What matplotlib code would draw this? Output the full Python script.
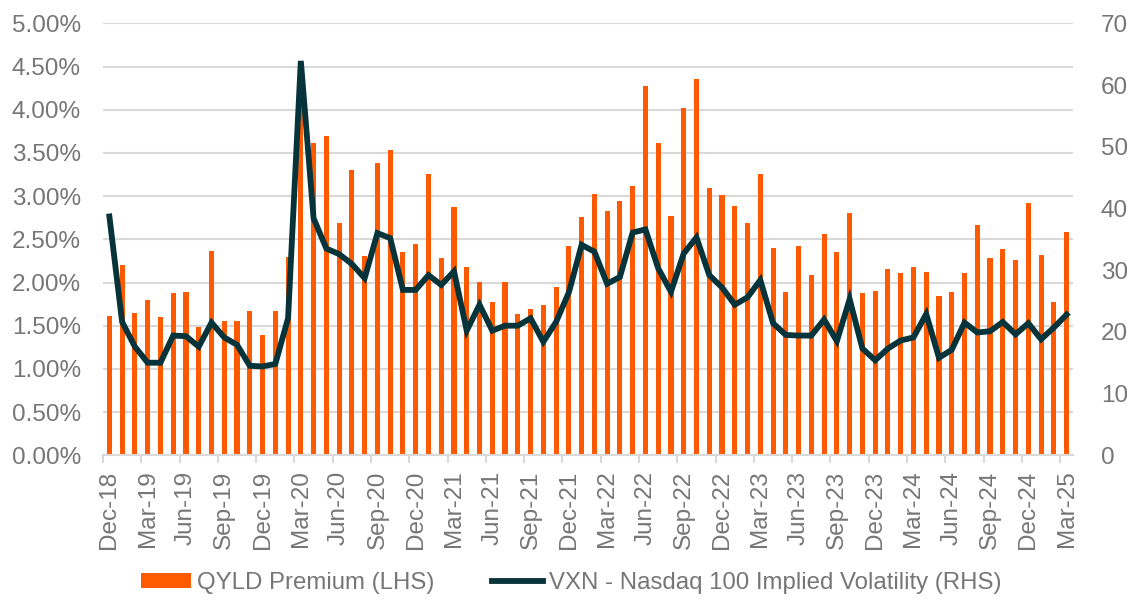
import matplotlib
matplotlib.use("Agg")
import matplotlib.pyplot as plt
from matplotlib.patches import Patch
from matplotlib.lines import Line2D
import numpy as np

months = ["Dec-18"] + [f"{m}-{y}" for y in range(19, 25) for m in
          ["Jan", "Feb", "Mar", "Apr", "May", "Jun", "Jul", "Aug", "Sep", "Oct", "Nov", "Dec"]] + ["Jan-25", "Feb-25", "Mar-25"]

qyld_premium = [1.61, 2.20, 1.65, 1.80, 1.60, 1.88, 1.89, 1.49, 2.36, 1.55,
                1.55, 1.67, 1.39, 1.67, 2.30, 4.05, 3.61, 3.70, 2.69, 3.30,
                2.31, 3.38, 3.53, 2.35, 2.45, 3.26, 2.28, 2.87, 2.18, 2.01,
                1.77, 2.01, 1.64, 1.69, 1.74, 1.95, 2.42, 2.76, 3.03, 2.83,
                2.94, 3.12, 4.27, 3.61, 2.77, 4.02, 4.36, 3.09, 3.01, 2.88,
                2.69, 3.26, 2.40, 1.89, 2.42, 2.09, 2.56, 2.35, 2.80, 1.88,
                1.90, 2.16, 2.11, 2.18, 2.12, 1.84, 1.89, 2.11, 2.67, 2.28,
                2.39, 2.26, 2.92, 2.32, 1.77, 2.59]

vxn = [38.7, 21.6, 17.6, 15.0, 15.0, 19.4, 19.3, 17.6, 21.5, 19.1,
       17.9, 14.5, 14.4, 14.8, 22.2, 63.9, 38.4, 33.5, 32.6, 31.0,
       28.7, 36.0, 35.2, 26.8, 26.8, 29.2, 27.6, 29.8, 20.2, 24.4,
       20.2, 21.0, 21.0, 22.2, 18.4, 21.6, 26.4, 34.1, 33.0, 27.8,
       28.9, 36.1, 36.6, 30.3, 26.5, 32.7, 35.3, 29.2, 27.2, 24.4,
       25.6, 28.4, 21.4, 19.5, 19.4, 19.4, 22.0, 18.5, 25.3, 17.3,
       15.4, 17.3, 18.6, 19.1, 22.9, 15.8, 17.1, 21.5, 19.9, 20.1,
       21.6, 19.6, 21.4, 18.8, 20.7, 22.8]

left_ticks = [0, 0.5, 1.0, 1.5, 2.0, 2.5, 3.0, 3.5, 4.0, 4.5, 5.0]
right_ticks = [0, 10, 20, 30, 40, 50, 60, 70]

plt.rcParams['font.family'] = ['Liberation Sans', 'DejaVu Sans']
TXT = '#767676'
ORANGE = '#FF5A00'
DARK = '#06343A'
GRID = '#D9D9D9'
FS = 17.5

fig = plt.figure(figsize=(11.27, 5.99), dpi=100)
ax = fig.add_axes([103/1127, 1 - 455.3/599, 970/1127, 432/599])
ax2 = ax.twinx()

x = np.arange(len(months))
ax.bar(x, qyld_premium, width=0.4, color=ORANGE, zorder=2)
ax2.plot(x, vxn, color=DARK, lw=4.2, solid_joinstyle='miter', zorder=3)

ax.set_xlim(-0.5, len(months) - 0.5)
ax.set_ylim(0, 5.0)
ax2.set_ylim(0, 70)

ax.set_yticks(left_ticks)
ax.set_yticklabels([f"{v:.2f}%" for v in left_ticks])
ax2.set_yticks(right_ticks)
ax2.set_yticklabels([str(v) for v in right_ticks])
ax.yaxis.grid(True, color=GRID, lw=1.5, zorder=0)
ax.set_axisbelow(True)

# x ticks: marks at boundaries, labels every quarter
bounds = np.arange(-0.5, len(months) - 1, 3)
ax.set_xticks(bounds)
ax.set_xticklabels([])
lab_pos = np.arange(0, len(months), 3)
ax.set_xticks(lab_pos, minor=True)
ax.set_xticklabels([months[i] for i in lab_pos], minor=True, rotation=90)
ax.tick_params(axis='x', which='major', length=6, width=1.5, color=GRID)
ax.tick_params(axis='x', which='minor', length=0, pad=11, labelsize=FS, labelcolor=TXT)
ax.tick_params(axis='y', length=0, pad=16, labelsize=FS, labelcolor=TXT)
ax2.tick_params(axis='y', length=0, pad=20, labelsize=FS, labelcolor=TXT)

for a in (ax, ax2):
    for s in ['top', 'right', 'left']:
        a.spines[s].set_visible(False)
ax2.spines['bottom'].set_visible(False)
ax.spines['bottom'].set_color(GRID)
ax.spines['bottom'].set_linewidth(1.5)

handles = [Patch(facecolor=ORANGE, edgecolor='none', label='QYLD Premium (LHS)'),
           Line2D([0], [0], color=DARK, lw=4.2, label='VXN - Nasdaq 100 Implied Volatility (RHS)')]
leg = fig.legend(handles=handles, loc='center', bbox_to_anchor=(571/1127, 16/599), ncol=2,
                 frameon=False, fontsize=17.3, handlelength=2.1, handleheight=0.55,
                 columnspacing=2.4, handletextpad=0.25)
for t in leg.get_texts():
    t.set_color(TXT)

fig.savefig('out.png', dpi=100)
